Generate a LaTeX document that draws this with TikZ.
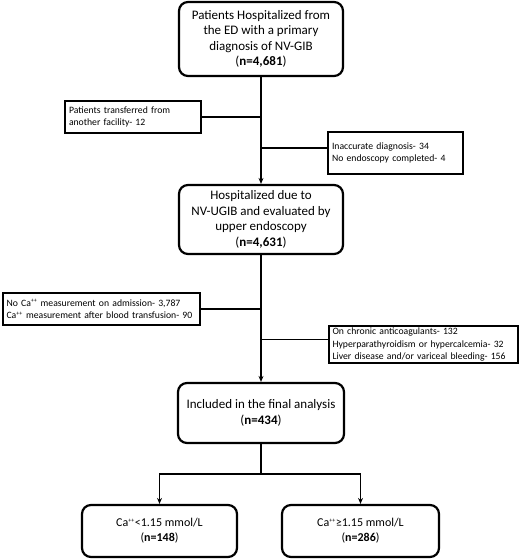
\documentclass[tikz,border=0pt]{standalone}
\usepackage{fontspec}
\setmainfont{Carlito}
\usetikzlibrary{arrows.meta,calc}
\newcommand{\plusplus}{\textsuperscript{\fontsize{6}{6}\selectfont ++}}
\begin{document}
\begin{tikzpicture}[x=1pt,y=-1pt,
  mainbox/.style={draw, line width=2.2pt, rounded corners=9pt, align=center, font=\fontsize{13}{15.5}\selectfont, inner sep=2pt},
  sidebox/.style={draw, line width=2pt, align=left, font=\fontsize{9.7}{12.5}\selectfont, inner xsep=4pt, inner ysep=2pt, anchor=center},
  link/.style={line width=1.8pt},
  arr/.style={line width=1.8pt, -{Stealth[length=6pt,width=5pt]}}]
\useasboundingbox (0,0) rectangle (520,559);
\node[mainbox, minimum width=164pt, minimum height=74pt] (b1) at (261,39) {Patients Hospitalized from\\the ED with a primary\\diagnosis of NV-GIB\\(\textbf{n=4,681})};
\node[mainbox, minimum width=164pt, minimum height=69pt] (b2) at (261,219.5) {Hospitalized due to\\NV-UGIB and evaluated by\\upper endoscopy\\(\textbf{n=4,631})};
\node[mainbox, minimum width=166pt, minimum height=60pt] (b3) at (261,413) {Included in the final analysis\\(\textbf{n=434})};
\node[mainbox, minimum width=155pt, minimum height=52pt, font=\fontsize{12}{15}\selectfont] (b4) at (159.5,531) {Ca\plusplus<1.15 mmol/L\\(\textbf{n=148})};
\node[mainbox, minimum width=157pt, minimum height=52pt, font=\fontsize{12}{15}\selectfont] (b5) at (360.5,531) {Ca\plusplus≥1.15 mmol/L\\(\textbf{n=286})};

\node[sidebox, minimum width=136pt, minimum height=32pt, text width=128pt] (s1) at (133,117) {Patients transferred from\\another facility- 12};
\node[sidebox, minimum width=135pt, minimum height=42pt, text width=127pt] (s2) at (395.5,153) {Inaccurate diagnosis- 34\\No endoscopy completed- 4};
\node[sidebox, minimum width=197pt, minimum height=32pt, text width=189pt] (s3) at (101,309) {No Ca\plusplus{} measurement on admission- 3,787\\Ca\plusplus{} measurement after blood transfusion- 90};
\node[sidebox, minimum width=189pt, minimum height=35pt, text width=181pt] (s4) at (423,344.5) {On chronic anticoagulants- 132\\Hyperparathyroidism or hypercalcemia- 32\\Liver disease and/or variceal bleeding- 156};

\coordinate (s2in) at ($(s2.west)+(0,-5)$);
\coordinate (s4in) at ($(s4.west)+(0,-5)$);
\draw[arr] (b1.south) -- (b2.north);
\draw[link] (s1.east) -- (s1.east -| b1.south);
\draw[link] (s2in) -- (s2in -| b1.south);
\draw[arr] (b2.south) -- (b3.north);
\draw[link] (s3.east) -- (s3.east -| b2.south);
\draw[link] (s4in) -- (s4in -| b2.south);
\coordinate (split) at (261,474);
\draw[link] (b3.south) -- (split);
\draw[arr] (split) -| (b4.north);
\draw[arr] (split) -| (b5.north);
\end{tikzpicture}
\end{document}
